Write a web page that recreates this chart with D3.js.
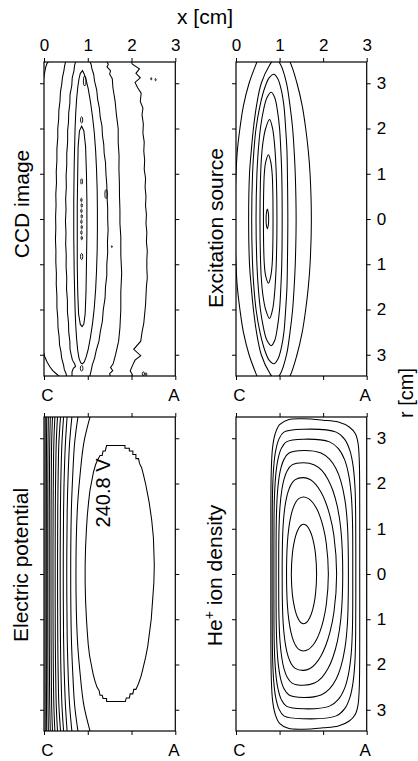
<!DOCTYPE html>
<html><head><meta charset="utf-8">
<script src="https://cdn.jsdelivr.net/npm/d3@7"></script>
<style>
body{margin:0;background:#fff}
svg{display:block}
text{font-family:"Liberation Sans",Arial,Helvetica,sans-serif;fill:#000}
</style>
</head><body>
<script>
// ---------------- data (x in cm, r in cm) ----------------
const X_DOMAIN=[0,3];
const R_DOMAIN=[-3.47,3.47];
const X_TICKS=[0,1,2,3];
const TOP_X_LABELS=["0","1","2","3"];
const BOTTOM_X_LABELS=["C","","","A"];
const R_TICKS=[-3,-2,-1,0,1,2,3];
const R_TICK_LABELS=["3","2","1","0","1","2","3"];
const PANEL_TITLES=["CCD image","Excitation source","Electric potential","He"];
const POT_LABEL="240.8 V";

// CCD image: measured (noisy) contour lines, top to bottom
const ccdCornerTop=[[0.12,3.5],[0.07,3.44],[0.04,3.36],[0.02,3.26],[0.0,3.15],[-0.02,3.05]];
const ccdCornerBottom=[[-0.02,-2.92],[0.02,-3.05],[0.07,-3.16],[0.13,-3.26],[0.2,-3.35],[0.28,-3.42],[0.35,-3.48],[0.38,-3.52]];
const ccdALeft=[[0.50,3.5],[0.47,3.38],[0.455,3.28],[0.42,3.12],[0.405,2.98],[0.375,2.8],[0.365,2.6],[0.34,2.4],[0.335,2.2],[0.315,2.0],[0.315,1.8],[0.295,1.55],[0.295,1.3],[0.28,1.05],[0.285,0.8],[0.27,0.55],[0.275,0.3],[0.265,0.05],[0.27,-0.2],[0.262,-0.45],[0.272,-0.7],[0.27,-0.95],[0.283,-1.2],[0.28,-1.45],[0.295,-1.7],[0.295,-1.95],[0.315,-2.2],[0.32,-2.4],[0.345,-2.6],[0.355,-2.78],[0.385,-2.92],[0.405,-3.08],[0.445,-3.22],[0.465,-3.33],[0.505,-3.42],[0.52,-3.5]];
const ccdBLeft=[[0.73,3.5],[0.70,3.4],[0.685,3.28],[0.645,3.12],[0.635,2.95],[0.595,2.75],[0.59,2.55],[0.565,2.35],[0.56,2.15],[0.54,1.95],[0.54,1.7],[0.52,1.45],[0.52,1.2],[0.505,0.95],[0.51,0.7],[0.495,0.45],[0.503,0.2],[0.49,-0.05],[0.502,-0.3],[0.495,-0.55],[0.508,-0.8],[0.505,-1.05],[0.52,-1.3],[0.515,-1.55],[0.535,-1.8],[0.535,-2.05],[0.56,-2.3],[0.565,-2.5],[0.59,-2.7],[0.595,-2.88],[0.625,-3.02],[0.65,-3.12],[0.70,-3.2],[0.72,-3.26],[0.67,-3.3],[0.64,-3.38],[0.64,-3.5]];
const ccdBRight=[[1.04,3.5],[1.075,3.42],[1.095,3.32],[1.135,3.2],[1.155,3.05],[1.205,2.85],[1.225,2.65],[1.265,2.45],[1.285,2.25],[1.325,2.05],[1.335,1.85],[1.365,1.65],[1.375,1.45],[1.405,1.25],[1.415,1.0],[1.435,0.75],[1.44,0.5],[1.455,0.25],[1.455,0.0],[1.465,-0.25],[1.45,-0.5],[1.455,-0.75],[1.435,-1.0],[1.435,-1.25],[1.405,-1.5],[1.395,-1.75],[1.355,-2.0],[1.335,-2.25],[1.285,-2.5],[1.255,-2.7],[1.195,-2.9],[1.155,-3.08],[1.105,-3.22],[1.075,-3.36],[1.04,-3.5]];
const ccdARight=[[1.42,3.5],[1.47,3.42],[1.44,3.36],[1.52,3.28],[1.50,3.2],[1.56,3.1],[1.575,2.9],[1.625,2.6],[1.655,2.3],[1.695,2.0],[1.695,1.7],[1.715,1.4],[1.712,1.1],[1.722,0.8],[1.725,0.5],[1.735,0.2],[1.735,-0.1],[1.755,-0.4],[1.755,-0.8],[1.775,-1.2],[1.755,-1.6],[1.755,-2.0],[1.735,-2.4],[1.705,-2.7],[1.635,-3.0],[1.58,-3.2],[1.52,-3.28],[1.57,-3.35],[1.50,-3.42],[1.52,-3.5]];
const ccdFarRight=[[1.98,3.5],[2.02,3.42],[2.18,3.32],[2.10,3.22],[2.20,3.12],[2.08,3.02],[2.14,2.9],[2.22,2.78],[2.20,2.6],[2.26,2.45],[2.24,2.3],[2.27,2.1],[2.26,1.9],[2.29,1.7],[2.28,1.5],[2.30,1.3],[2.29,1.1],[2.32,0.9],[2.31,0.7],[2.33,0.5],[2.32,0.3],[2.34,0.1],[2.33,-0.1],[2.35,-0.3],[2.34,-0.5],[2.36,-0.7],[2.35,-0.9],[2.35,-1.1],[2.36,-1.3],[2.34,-1.5],[2.33,-1.7],[2.32,-1.9],[2.30,-2.1],[2.28,-2.3],[2.24,-2.5],[2.21,-2.7],[2.05,-2.88],[2.21,-3.02],[2.08,-3.12],[2.02,-3.24],[1.97,-3.36],[2.02,-3.44],[1.98,-3.5]];
const ccdC=[[0.88,3.28],[0.83,3.22],[0.80,3.1],[0.77,2.9],[0.745,2.65],[0.725,2.35],[0.71,2.0],[0.70,1.6],[0.69,1.2],[0.685,0.8],[0.68,0.4],[0.68,0.0],[0.68,-0.4],[0.685,-0.8],[0.69,-1.2],[0.70,-1.6],[0.71,-2.0],[0.725,-2.35],[0.745,-2.65],[0.77,-2.9],[0.80,-3.08],[0.84,-3.18],[0.88,-3.2],[0.92,-3.16],[0.96,-3.06],[1.01,-2.88],[1.06,-2.62],[1.11,-2.3],[1.15,-1.95],[1.18,-1.55],[1.20,-1.15],[1.215,-0.7],[1.22,-0.25],[1.22,0.2],[1.215,0.65],[1.20,1.1],[1.18,1.5],[1.15,1.9],[1.11,2.25],[1.06,2.6],[1.01,2.88],[0.96,3.08],[0.92,3.2]];
const ccdD=[[0.86,2.05],[0.81,1.95],[0.78,1.6],[0.77,1.0],[0.76,0.3],[0.76,-0.4],[0.76,-1.0],[0.77,-1.6],[0.79,-2.1],[0.83,-2.33],[0.87,-2.38],[0.91,-2.32],[0.94,-2.1],[0.96,-1.6],[0.97,-1.0],[0.98,-0.3],[0.98,0.4],[0.97,1.0],[0.95,1.6],[0.91,1.95]];
// small islands: [x, r, half-width, half-height]
const ccdIslands=[[0.93,3.05,0.03,0.11],[0.86,2.19,0.025,0.07],[0.86,0.83,0.02,0.06],
 [0.855,0.42,0.015,0.04],[0.862,0.3,0.015,0.04],[0.855,0.18,0.015,0.04],[0.862,0.06,0.015,0.04],
 [0.855,-0.06,0.015,0.04],[0.862,-0.18,0.015,0.04],[0.855,-0.3,0.015,0.04],[0.862,-0.42,0.015,0.04],
 [0.86,-0.83,0.025,0.07],[1.42,0.55,0.03,0.1],[1.55,-0.61,0.01,0.02],[2.45,3.1,0.012,0.025],
 [2.55,3.08,0.012,0.025],[0.86,-3.3,0.03,0.06],[2.27,-3.42,0.025,0.04],[2.33,-3.43,0.02,0.03]];

// Excitation source: upper halves (left r=0 -> top -> right r=0), symmetric in r
const excContours=[
 [[-0.03,0],[0.0,1.0],[0.03,1.5],[0.09,2.0],[0.17,2.5],[0.30,3.0],[0.48,3.47],[0.6,3.75],[0.85,3.9],[1.05,3.75],[1.24,3.47],[1.40,3.0],[1.52,2.5],[1.60,2.0],[1.66,1.5],[1.70,1.0],[1.73,0]],
 [[0.29,0],[0.31,1.0],[0.35,1.5],[0.40,2.0],[0.47,2.5],[0.58,3.0],[0.77,3.4],[0.90,3.55],[1.02,3.42],[1.16,3.0],[1.24,2.5],[1.30,2.0],[1.335,1.5],[1.36,1.0],[1.38,0]],
 [[0.36,0],[0.38,1.0],[0.41,1.5],[0.46,2.0],[0.55,2.5],[0.66,2.9],[0.76,3.12],[0.87,3.2],[0.96,3.1],[1.04,2.85],[1.10,2.5],[1.14,2.0],[1.17,1.5],[1.18,1.0],[1.19,0]],
 [[0.46,0],[0.48,1.0],[0.51,1.5],[0.56,2.0],[0.63,2.4],[0.71,2.68],[0.81,2.8],[0.89,2.68],[0.95,2.4],[1.0,2.0],[1.03,1.5],[1.05,1.0],[1.06,0]],
 [[0.55,0],[0.56,0.8],[0.58,1.3],[0.62,1.7],[0.68,2.0],[0.77,2.2],[0.84,2.0],[0.88,1.7],[0.91,1.3],[0.93,0.8],[0.94,0]],
 [[0.63,0],[0.635,0.6],[0.65,1.0],[0.68,1.25],[0.745,1.42],[0.80,1.25],[0.83,1.0],[0.845,0.6],[0.85,0]],
 [[0.69,0],[0.70,0.15],[0.72,0.22],[0.74,0.15],[0.75,0]]
];

// Electric potential: x of each line at the r levels of potR
const potR=[3.5,2.9,2.15,1.4,0,-1.4,-2.15,-2.9,-3.5];
const potLines=[
 [1.06,0.91,0.82,0.76,0.73,0.76,0.82,0.91,1.06],
 [0.78,0.70,0.655,0.625,0.61,0.625,0.655,0.70,0.78],
 [0.64,0.585,0.55,0.53,0.52,0.53,0.55,0.585,0.64],
 [0.53,0.49,0.462,0.447,0.44,0.447,0.462,0.49,0.53],
 [0.45,0.41,0.387,0.375,0.37,0.375,0.387,0.41,0.45],
 [0.38,0.34,0.323,0.314,0.31,0.314,0.323,0.34,0.38],
 [0.31,0.28,0.266,0.258,0.255,0.258,0.266,0.28,0.31],
 [0.25,0.225,0.214,0.208,0.205,0.208,0.214,0.225,0.25],
 [0.195,0.175,0.167,0.162,0.16,0.162,0.167,0.175,0.195],
 [0.145,0.131,0.125,0.121,0.12,0.121,0.125,0.131,0.145],
 [0.10,0.092,0.088,0.086,0.085,0.086,0.088,0.092,0.10],
 [0.062,0.057,0.055,0.054,0.053,0.054,0.055,0.057,0.062],
 [0.029,0.027,0.026,0.025,0.025,0.025,0.026,0.027,0.029]
];
const pot2408=[[1.43,2.84],[1.85,2.84],[1.85,2.78],[1.95,2.78],[1.95,2.72],[2.03,2.72],[2.03,2.64],[2.10,2.64],[2.10,2.55],[2.16,2.55],[2.18,2.45],[2.23,2.35],[2.27,2.2],[2.32,2.0],[2.36,1.8],[2.40,1.6],[2.43,1.4],[2.46,1.2],[2.48,1.0],[2.50,0.8],[2.51,0.5],[2.52,0.2],[2.51,-0.2],[2.48,-0.6],[2.45,-1.0],[2.41,-1.3],[2.37,-1.6],[2.32,-1.85],[2.27,-2.05],[2.22,-2.25],[2.16,-2.42],[2.10,-2.55],[2.05,-2.55],[2.03,-2.65],[1.97,-2.65],[1.95,-2.74],[1.88,-2.74],[1.86,-2.82],[1.43,-2.82],[1.43,-2.75],[1.35,-2.75],[1.33,-2.68],[1.28,-2.68],[1.26,-2.58],[1.21,-2.5],[1.16,-2.35],[1.12,-2.2],[1.08,-2.0],[1.04,-1.8],[1.01,-1.55],[0.99,-1.3],[0.97,-1.0],[0.95,-0.6],[0.94,-0.2],[0.94,0.2],[0.95,0.6],[0.97,1.0],[0.99,1.3],[1.02,1.6],[1.05,1.85],[1.09,2.05],[1.13,2.25],[1.18,2.42],[1.24,2.55],[1.28,2.62],[1.33,2.62],[1.35,2.72],[1.40,2.72]];

// He+ ion density: upper halves, symmetric in r
const heContours=[
 [[0.80,0],[0.80,1.5],[0.81,2.3],[0.84,2.8],[0.90,3.1],[1.0,3.3],[1.2,3.41],[1.55,3.43],[2.0,3.4],[2.35,3.36],[2.6,3.25],[2.74,3.1],[2.80,2.9],[2.83,2.5],[2.84,1.5],[2.84,0]],
 [[0.83,0],[0.832,1.28],[0.842,1.92],[0.868,2.40],[0.91,2.72],[0.983,2.976],[1.099,3.136],[1.55,3.20],[2.301,3.136],[2.496,2.976],[2.617,2.72],[2.686,2.40],[2.731,1.92],[2.747,1.28],[2.75,0]],
 [[0.87,0],[0.872,1.192],[0.886,1.788],[0.917,2.235],[0.963,2.533],[1.038,2.771],[1.155,2.920],[1.55,2.98],[2.147,2.920],[2.350,2.771],[2.490,2.533],[2.577,2.235],[2.642,1.788],[2.673,1.192],[2.68,0]],
 [[0.92,0],[0.924,1.092],[0.941,1.638],[0.977,2.048],[1.026,2.321],[1.104,2.539],[1.217,2.675],[1.55,2.73],[1.951,2.675],[2.147,2.539],[2.300,2.321],[2.408,2.048],[2.500,1.638],[2.557,1.092],[2.58,0]],
 [[0.98,0],[0.987,0.984],[1.009,1.476],[1.050,1.845],[1.101,2.091],[1.178,2.288],[1.286,2.411],[1.55,2.46],[1.802,2.411],[1.969,2.288],[2.112,2.091],[2.223,1.845],[2.329,1.476],[2.407,0.984],[2.45,0]],
 [[1.06,0],[1.071,0.852],[1.098,1.278],[1.142,1.598],[1.193,1.811],[1.266,1.981],[1.359,2.087],[1.55,2.13],[1.701,2.087],[1.829,1.981],[1.950,1.811],[2.053,1.598],[2.158,1.278],[2.247,0.852],[2.31,0]],
 [[1.16,0],[1.179,0.68],[1.213,1.02],[1.258,1.275],[1.307,1.445],[1.368,1.581],[1.441,1.666],[1.55,1.70],[1.663,1.666],[1.760,1.581],[1.850,1.445],[1.927,1.275],[2.006,1.02],[2.072,0.68],[2.12,0]],
 [[1.27,0],[1.293,0.44],[1.326,0.66],[1.365,0.825],[1.402,0.935],[1.447,1.023],[1.494,1.078],[1.55,1.10],[1.61,1.078],[1.66,1.023],[1.708,0.935],[1.748,0.825],[1.79,0.66],[1.825,0.44],[1.85,0]]
];

// ---------------- layout ----------------
const W=418,H=761;
const PANELS=[
 {key:"ccd",x0:44,x1:175.3,y0:62,y1:376,col:0,row:0,tx:28.5,ty:204},
 {key:"exc",x0:236,x1:366.7,y0:62,y1:376,col:1,row:0,tx:223.3,ty:228},
 {key:"pot",x0:44,x1:175.3,y0:417,y1:731,col:0,row:1,tx:27.7,ty:565},
 {key:"he",x0:236,x1:366.7,y0:417,y1:731,col:1,row:1,tx:221.7,ty:575.5}
];
const svg=d3.select("body").append("svg").attr("width",W).attr("height",H);
const defs=svg.append("defs");

const mirrorRing=up=>up.concat(up.slice(1,-1).reverse().map(p=>[p[0],-p[1]]));

PANELS.forEach((p,pi)=>{
  const xs=d3.scaleLinear().domain(X_DOMAIN).range([p.x0,p.x1]);
  const ys=d3.scaleLinear().domain(R_DOMAIN).range([p.y1,p.y0]);
  const g=svg.append("g");
  defs.append("clipPath").attr("id","clip-"+p.key).append("rect")
    .attr("x",p.x0).attr("y",p.y0).attr("width",p.x1-p.x0).attr("height",p.y1-p.y0);
  const plot=g.append("g").attr("clip-path",`url(#clip-${p.key})`)
    .attr("fill","none").attr("stroke","#000").attr("stroke-width",1.05);
  const line=c=>d3.line().x(d=>xs(d[0])).y(d=>ys(d[1])).curve(c);

  if(p.key==="ccd"){
    [ccdCornerTop,ccdCornerBottom,ccdALeft,ccdBLeft,ccdBRight,ccdARight,ccdFarRight].forEach(l=>
      plot.append("path").attr("d",line(d3.curveLinear)(l)));
    [ccdC,ccdD].forEach(l=>plot.append("path").attr("d",line(d3.curveLinearClosed)(l)));
    plot.selectAll("ellipse.isl").data(ccdIslands).join("ellipse").attr("class","isl")
      .attr("cx",d=>xs(d[0])).attr("cy",d=>ys(d[1]))
      .attr("rx",d=>xs(d[2])-xs(0)).attr("ry",d=>ys(0)-ys(d[3])).attr("stroke-width",0.9);
  }
  if(p.key==="exc"){
    excContours.forEach(c=>plot.append("path").attr("d",line(d3.curveCatmullRomClosed)(mirrorRing(c))));
  }
  if(p.key==="pot"){
    potLines.forEach(l=>plot.append("path").attr("d",line(d3.curveCatmullRom)(l.map((x,i)=>[x,potR[i]]))));
    plot.append("path").attr("d",line(d3.curveLinearClosed)(pot2408));
    g.append("text").attr("transform",`translate(109.5,493) rotate(-90)`)
      .attr("text-anchor","middle").attr("font-size","20px").text(POT_LABEL);
  }
  if(p.key==="he"){
    heContours.forEach(c=>plot.append("path").attr("d",line(d3.curveCatmullRomClosed)(mirrorRing(c))));
  }

  // axes
  const axTop=d3.axisTop(xs).tickValues(X_TICKS).tickSize(4).tickSizeOuter(0).tickPadding(7)
    .tickFormat((d,i)=>p.row===0?TOP_X_LABELS[i]:"");
  const axBot=d3.axisBottom(xs).tickValues(X_TICKS).tickSize(4).tickSizeOuter(0).tickPadding(9)
    .tickFormat((d,i)=>BOTTOM_X_LABELS[i]);
  const axL=d3.axisLeft(ys).tickValues(R_TICKS).tickSize(4).tickSizeOuter(0).tickFormat("");
  const axR=d3.axisRight(ys).tickValues(R_TICKS).tickSize(4).tickSizeOuter(0).tickPadding(6)
    .tickFormat((d,i)=>p.col===1?R_TICK_LABELS[i]:"");
  [[axTop,`translate(0,${p.y0})`,"t"],[axBot,`translate(0,${p.y1})`,"b"],[axL,`translate(${p.x0},0)`,"l"],[axR,`translate(${p.x1},0)`,"r"]]
   .forEach(([a,t,k])=>{
     const ag=g.append("g").attr("transform",t).call(a);
     ag.select(".domain").remove();
     ag.selectAll("line").attr("stroke","#000").attr("stroke-width",1);
     ag.selectAll("text").attr("font-size","17px").attr("font-family",null).attr("fill","#000");
     if(k==="b") ag.selectAll("text").attr("dx",function(){const s=d3.select(this).text();return s==="C"?3:(s==="A"?-2:0);});
   });
  g.append("rect").attr("x",p.x0).attr("y",p.y0).attr("width",p.x1-p.x0).attr("height",p.y1-p.y0)
    .attr("fill","none").attr("stroke","#000").attr("stroke-width",1.2);

  // panel title
  const t=g.append("text").attr("transform",`translate(${p.tx},${p.ty}) rotate(-90)`)
    .attr("text-anchor","middle").attr("font-size","21px");
  if(p.key==="he"){
    t.append("tspan").text(PANEL_TITLES[pi]);
    t.append("tspan").attr("font-size","14px").attr("dy",-8).text("+");
    t.append("tspan").attr("dy",8).text(" ion density");
  } else t.text(PANEL_TITLES[pi]);
});

svg.append("text").attr("x",205).attr("y",24).attr("text-anchor","middle").attr("font-size","21px").text("x [cm]");
svg.append("text").attr("transform","translate(413,393) rotate(-90)").attr("text-anchor","middle").attr("font-size","20px").text("r [cm]");
</script>
</body></html>
